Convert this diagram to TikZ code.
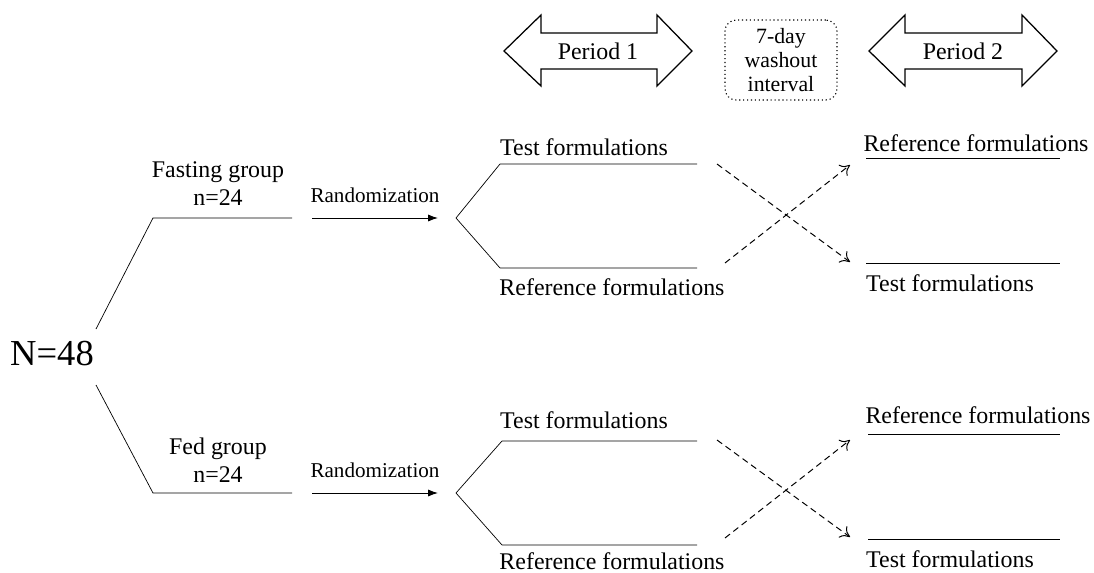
\documentclass[tikz,border=0pt]{standalone}
\usepackage{fontspec}
\setmainfont{Liberation Serif}
\usepackage{tikz}
\usetikzlibrary{arrows.meta}
\tikzset{>={Latex[length=7pt,width=5pt]}}
\tikzset{
  lbl/.style={inner sep=0pt, font=\fontsize{17}{20}\selectfont},
  randlbl/.style={inner sep=0pt, font=\fontsize{15}{18}\selectfont},
  bigtxt/.style={inner sep=0pt, font=\fontsize{26}{30}\selectfont},
  washbox/.style={draw, dotted, line width=0.8pt, rounded corners=8pt, minimum width=2.8cm,
    minimum height=2cm, align=center, inner sep=0pt, font=\fontsize{15.5}{17}\selectfont},
  period/.style={line width=0.9pt},
  arm/.style={line width=0.5pt},
  cross/.style={dashed, dash pattern=on 4.5pt off 3pt, line width=0.7pt,
    -{To[length=6.5pt,width=10pt]}}
}

\begin{document}
\begin{tikzpicture}[x=0.025cm, y=-0.025cm]
  \useasboundingbox (0,0) rectangle (1094,573);
  % periods
  \draw[period] (504,51) -- (541,15) -- (541,33) -- (657,33) -- (657,15) -- (692,51)
    -- (657,86) -- (657,69) -- (541,69) -- (541,86) -- cycle;
  \node[lbl] (per1) at (598,51) {Period 1};
  \draw[period] (869,51) -- (905,15) -- (905,33) -- (1022,33) -- (1022,15) -- (1057,51)
    -- (1022,86) -- (1022,69) -- (905,69) -- (905,86) -- cycle;
  \node[lbl] (per2) at (963,51) {Period 2};
  \node[washbox] (wash) at (781,60) {7-day\\washout\\interval};

  % all subjects
  \node[bigtxt] (all) at (52,354) {N=48};
  \coordinate (allup) at (96,329);
  \coordinate (alldown) at (96,385);

  % fasting group
  \coordinate (fastbend) at (153,218);
  \coordinate (fastend) at (292,218);
  \draw[arm] (allup) -- (fastbend) -- (fastend);
  \node[lbl, align=center] (fasting) at (218,184) {Fasting group\\n=24};
  \coordinate (fastA) at (312,218);
  \coordinate (fastB) at (438,218);
  \draw[->, line width=0.7pt] (fastA) -- (fastB);
  \node[randlbl] (fastrand) at (375,195) {Randomization};
  \coordinate (fastfork) at (456,218);
  \coordinate (fasttestA) at (500,164);
  \coordinate (fasttestB) at (697,164);
  \coordinate (fastrefA) at (500,268);
  \coordinate (fastrefB) at (697,268);
  \draw[arm] (fasttestB) -- (fasttestA) -- (fastfork) -- (fastrefA) -- (fastrefB);
  \node[lbl] (fasttest) at (584,147) {Test formulations};
  \node[lbl] (fastref) at (612,287) {Reference formulations};
  \coordinate (fastxA) at (717,164);
  \coordinate (fastxB) at (850,262);
  \coordinate (fastxC) at (725,263);
  \coordinate (fastxD) at (850,165);
  \draw[cross] (fastxA) -- (fastxB);
  \draw[cross] (fastxC) -- (fastxD);
  \coordinate (fastref2A) at (866,158);
  \coordinate (fastref2B) at (1060,158);
  \coordinate (fasttest2A) at (866,263);
  \coordinate (fasttest2B) at (1060,263);
  \draw[arm] (fastref2A) -- (fastref2B);
  \draw[arm] (fasttest2A) -- (fasttest2B);
  \node[lbl] (fastref2) at (976,143) {Reference formulations};
  \node[lbl] (fasttest2) at (950,283) {Test formulations};

  % fed group
  \coordinate (fedbend) at (153,493);
  \coordinate (fedend) at (292,493);
  \draw[arm] (alldown) -- (fedbend) -- (fedend);
  \node[lbl, align=center] (fed) at (218,460) {Fed group\\n=24};
  \coordinate (fedA) at (312,493);
  \coordinate (fedB) at (438,493);
  \draw[->, line width=0.7pt] (fedA) -- (fedB);
  \node[randlbl] (fedrand) at (375,470) {Randomization};
  \coordinate (fedfork) at (456,493);
  \coordinate (fedtestA) at (502,441);
  \coordinate (fedtestB) at (697,441);
  \coordinate (fedrefA) at (502,545);
  \coordinate (fedrefB) at (697,545);
  \draw[arm] (fedtestB) -- (fedtestA) -- (fedfork) -- (fedrefA) -- (fedrefB);
  \node[lbl] (fedtest) at (584,420) {Test formulations};
  \node[lbl] (fedref) at (612,561) {Reference formulations};
  \coordinate (fedxA) at (717,440);
  \coordinate (fedxB) at (850,537);
  \coordinate (fedxC) at (725,538);
  \coordinate (fedxD) at (850,440);
  \draw[cross] (fedxA) -- (fedxB);
  \draw[cross] (fedxC) -- (fedxD);
  \coordinate (fedref2A) at (868,434);
  \coordinate (fedref2B) at (1060,434);
  \coordinate (fedtest2A) at (868,539);
  \coordinate (fedtest2B) at (1060,539);
  \draw[arm] (fedref2A) -- (fedref2B);
  \draw[arm] (fedtest2A) -- (fedtest2B);
  \node[lbl] (fedref2) at (978,415) {Reference formulations};
  \node[lbl] (fedtest2) at (950,559) {Test formulations};
\end{tikzpicture}
\end{document}
